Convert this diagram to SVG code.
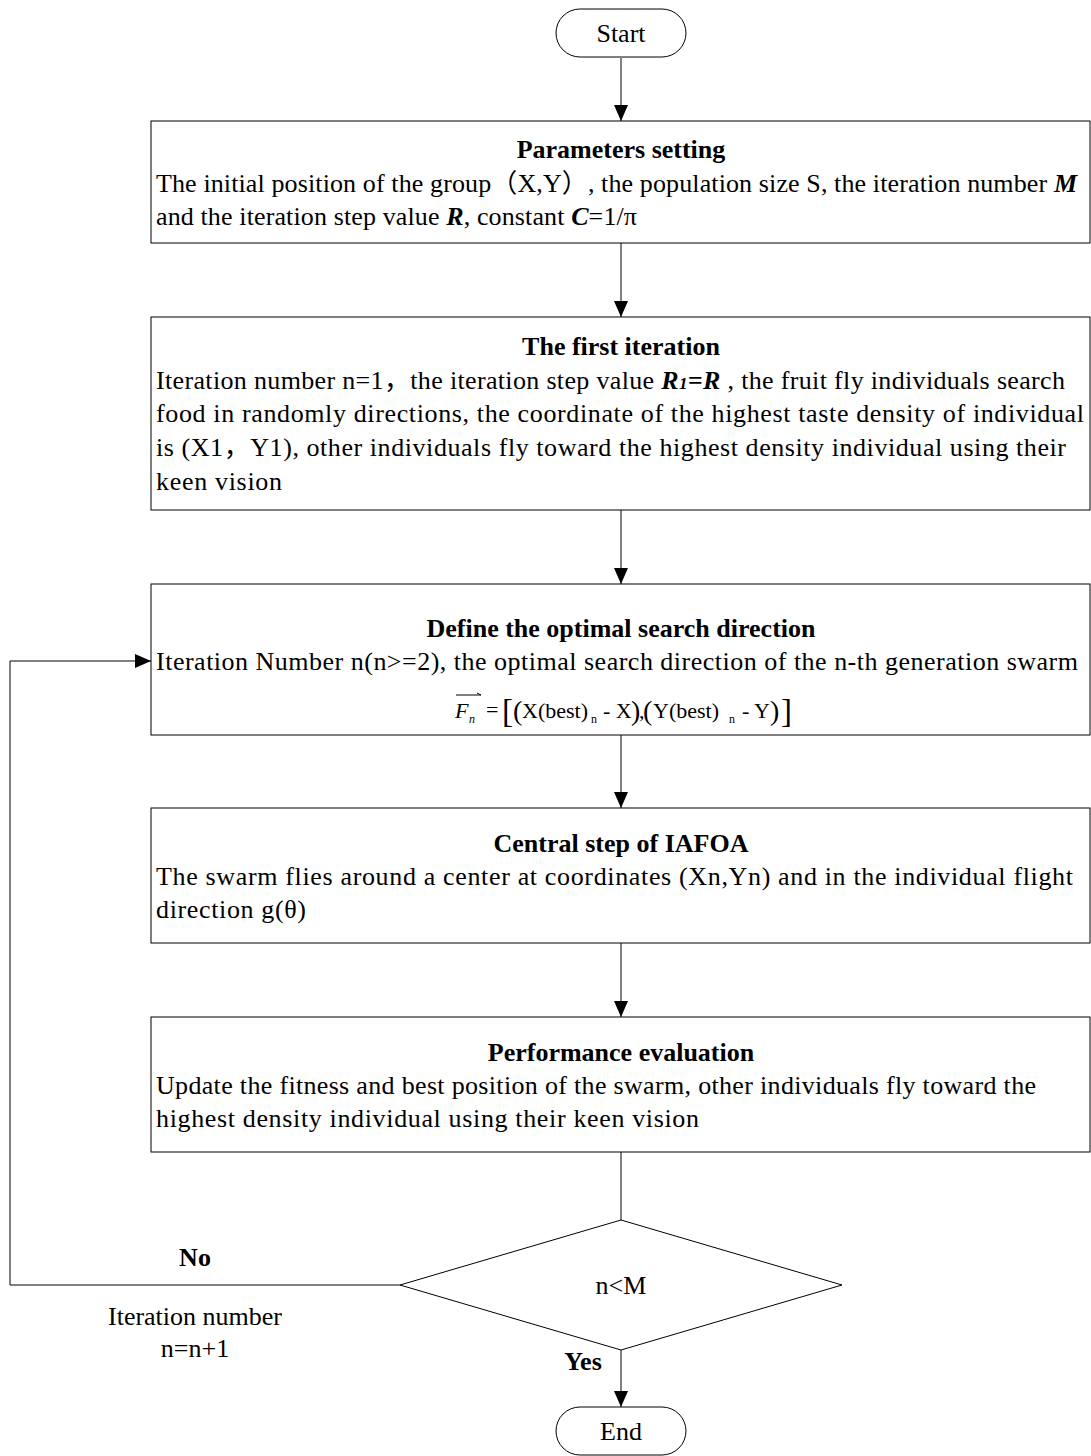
<svg xmlns="http://www.w3.org/2000/svg" width="1091" height="1456" viewBox="0 0 1091 1456">
<style>
text{font-family:"Liberation Serif","Times New Roman","Noto Sans CJK SC",serif;font-size:26px;fill:#000}
.t{font-weight:bold;text-anchor:middle}
.c{text-anchor:middle}
.b{font-weight:bold;font-style:italic}
.box{fill:#fff;stroke:#000;stroke-width:1}
.ln{fill:none;stroke:#000;stroke-width:1}
.f{font-size:22px}
.s{font-size:12px}
.p{font-size:28px}
.k{font-size:33px}
</style>
<defs>
<marker id="ah2" viewBox="0 0 16 16" refX="16" refY="8" markerWidth="16" markerHeight="16" markerUnits="userSpaceOnUse" orient="auto">
<path d="M0,1 L16,8 L0,15 z" fill="#000"/>
</marker>
</defs>
<g id="connectors">
<line class="ln" x1="621" y1="58" x2="621" y2="121" marker-end="url(#ah2)"/>
<line class="ln" x1="621" y1="243" x2="621" y2="317" marker-end="url(#ah2)"/>
<line class="ln" x1="621" y1="510" x2="621" y2="584" marker-end="url(#ah2)"/>
<line class="ln" x1="621" y1="735" x2="621" y2="808" marker-end="url(#ah2)"/>
<line class="ln" x1="621" y1="943" x2="621" y2="1017" marker-end="url(#ah2)"/>
<line class="ln" x1="621" y1="1152" x2="621" y2="1220"/>
<line class="ln" x1="621" y1="1350" x2="621" y2="1407" marker-end="url(#ah2)"/>
<polyline class="ln" points="400,1285 10,1285 10,661 151,661" marker-end="url(#ah2)"/>
<text class="t" x="195" y="1266">No</text>
<text class="c" x="195" y="1325">Iteration number</text>
<text class="c" x="195" y="1357">n=n+1</text>
<text class="t" x="583" y="1370">Yes</text>
</g>
<g id="start">
<rect class="box" x="556" y="9" width="130" height="48" rx="24"/>
<text class="c" x="621" y="42">Start</text>
</g>
<g id="params">
<rect class="box" x="151" y="121" width="939" height="122"/>
<text class="t" x="621" y="158">Parameters setting</text>
<text x="156" y="192" textLength="921" lengthAdjust="spacing">The initial position of the group（X,Y）, the population size S, the iteration number <tspan class="b">M</tspan></text>
<text x="156" y="225" textLength="481" lengthAdjust="spacing">and the iteration step value <tspan class="b">R</tspan>, constant <tspan class="b">C</tspan>=1/π</text>
</g>
<g id="first">
<rect class="box" x="151" y="317" width="939" height="193"/>
<text class="t" x="621" y="355">The first iteration</text>
<text x="156" y="389" textLength="909" lengthAdjust="spacing">Iteration number n=1，the iteration step value <tspan class="b">R<tspan font-size="17">1</tspan>=R</tspan> , the fruit fly individuals search</text>
<text x="156" y="422" textLength="928" lengthAdjust="spacing">food in randomly directions, the coordinate of the highest taste density of individual</text>
<text x="156" y="456" textLength="910" lengthAdjust="spacing">is (X1，Y1), other individuals fly toward the highest density individual using their</text>
<text x="156" y="490" textLength="126" lengthAdjust="spacing">keen vision</text>
</g>
<g id="direction">
<rect class="box" x="151" y="584" width="939" height="151"/>
<text class="t" x="621" y="637">Define the optimal search direction</text>
<text x="156" y="670" textLength="922" lengthAdjust="spacing">Iteration Number n(n&gt;=2), the optimal search direction of the n-th generation swarm</text>
<line x1="456" y1="695" x2="481" y2="695" stroke="#000" stroke-width="1"/>
<path d="M477,693 L481,695" fill="none" stroke="#000" stroke-width="1"/>
<text><tspan class="f" x="455" y="718" font-style="italic">F</tspan><tspan class="s" x="469" y="723" font-style="italic">n</tspan><tspan class="f" x="486" y="717">=</tspan><tspan class="k" x="502" y="722">[</tspan><tspan class="p" x="513" y="720">(</tspan><tspan class="f" x="522" y="718">X(best)</tspan><tspan class="s" x="591" y="723">n</tspan><tspan class="f" x="603" y="718">- X</tspan><tspan class="p" x="631" y="720">)</tspan><tspan class="f" x="639" y="718">,</tspan><tspan class="p" x="643" y="720">(</tspan><tspan class="f" x="653" y="718">Y(best)</tspan><tspan class="s" x="729" y="723">n</tspan><tspan class="f" x="742" y="718">- Y</tspan><tspan class="p" x="770" y="720">)</tspan><tspan class="k" x="781" y="722">]</tspan></text>
</g>
<g id="central">
<rect class="box" x="151" y="808" width="939" height="135"/>
<text class="t" x="621" y="852">Central step of IAFOA</text>
<text x="156" y="885" textLength="917" lengthAdjust="spacing"> The swarm flies around a center at coordinates (Xn,Yn) and in the individual flight</text>
<text x="156" y="918" textLength="150" lengthAdjust="spacing">direction g(θ)</text>
</g>
<g id="perf">
<rect class="box" x="151" y="1017" width="939" height="135"/>
<text class="t" x="621" y="1061">Performance evaluation</text>
<text x="156" y="1094" textLength="880" lengthAdjust="spacing">Update the fitness and best position of the swarm, other individuals fly toward the</text>
<text x="156" y="1127" textLength="543" lengthAdjust="spacing">highest density individual using their keen vision</text>
</g>
<g id="decision">
<polygon class="box" points="621,1220 842,1285 621,1350 400,1285"/>
<text class="c" x="621" y="1294">n&lt;M</text>
</g>
<g id="end">
<rect class="box" x="556" y="1407" width="130" height="48" rx="24"/>
<text class="c" x="621" y="1440">End</text>
</g>
</svg>
